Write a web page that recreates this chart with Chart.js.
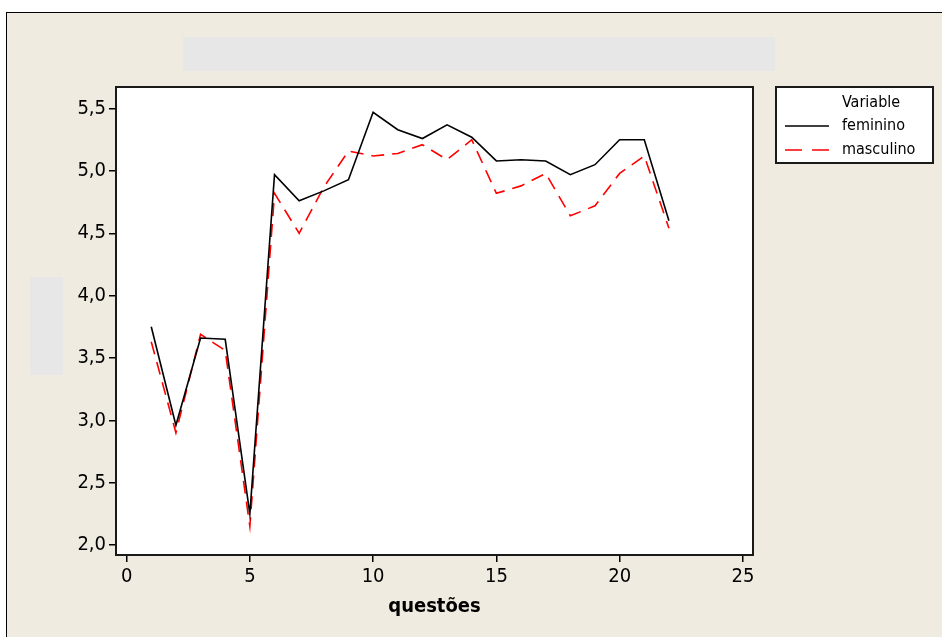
<!DOCTYPE html>
<html>
<head>
<meta charset="utf-8">
<script src="https://cdn.jsdelivr.net/npm/chart.js@4/dist/chart.umd.min.js"></script>
<style>
  html, body { margin: 0; padding: 0; background: #fff; }
  #wrap { width: 942px; height: 637px; }
</style>
</head>
<body>
<div id="wrap"><canvas id="chart"></canvas></div>
<script>
// data
const questoes = [1, 2, 3, 4, 5, 6, 7, 8, 9, 10, 11, 12, 13, 14, 15, 16, 17, 18, 19, 20, 21, 22];
const feminino = [3.75, 2.96, 3.66, 3.65, 2.25, 4.97, 4.76, 4.84, 4.93, 5.47, 5.33, 5.26, 5.37, 5.27, 5.08, 5.09, 5.08, 4.97, 5.05, 5.25, 5.25, 4.60];
const masculino = [3.63, 2.90, 3.69, 3.56, 2.15, 4.82, 4.50, 4.87, 5.16, 5.12, 5.14, 5.21, 5.09, 5.25, 4.82, 4.88, 4.98, 4.64, 4.72, 4.98, 5.12, 4.54];
const xTicks = [0, 5, 10, 15, 20, 25];
const yTicks = [2.0, 2.5, 3.0, 3.5, 4.0, 4.5, 5.0, 5.5];

const FONT = '"DejaVu Sans Condensed", "DejaVu Sans", sans-serif';

// beige frame, grey placeholders, plot box and legend
const minitabLook = {
    id: 'minitabLook',
    beforeDraw(chart) {
        const ctx = chart.ctx;
        ctx.save();
        ctx.fillStyle = '#ffffff';
        ctx.fillRect(0, 0, chart.width, chart.height);
        ctx.fillStyle = '#efebe0';
        ctx.fillRect(6, 12, chart.width, chart.height);
        ctx.strokeStyle = '#000';
        ctx.lineWidth = 1;
        ctx.strokeRect(6.5, 12.5, chart.width + 10, chart.height + 10);
        ctx.fillStyle = '#e7e7e7';
        ctx.fillRect(183, 37, 592, 34);
        ctx.fillRect(30, 277, 33, 98);
        const a = chart.chartArea;
        ctx.fillStyle = '#fff';
        ctx.fillRect(a.left, a.top, a.right - a.left, a.bottom - a.top);
        ctx.restore();
    },
    afterDraw(chart) {
        const ctx = chart.ctx;
        const a = chart.chartArea;
        ctx.save();
        ctx.strokeStyle = '#1a1a1a';
        ctx.lineWidth = 2;
        ctx.strokeRect(a.left, a.top, a.right - a.left, a.bottom - a.top);

        // legend
        ctx.fillStyle = '#fff';
        ctx.fillRect(776, 87, 157, 76);
        ctx.strokeRect(776, 87, 157, 76);
        ctx.font = '16px ' + FONT;
        ctx.textBaseline = 'middle';
        ctx.fillStyle = '#000';
        ctx.fillText('Variable', 842, 103);
        const items = chart.data.datasets;
        items.forEach((ds, i) => {
            const y = 126 + i * 24;
            ctx.beginPath();
            ctx.strokeStyle = ds.borderColor;
            ctx.lineWidth = ds.borderWidth;
            ctx.setLineDash(ds.borderDash ? [17, 10] : []);
            ctx.moveTo(785, y);
            ctx.lineTo(829, y);
            ctx.stroke();
            ctx.setLineDash([]);
            ctx.fillStyle = '#000';
            ctx.fillText(ds.label, 842, y);
        });
        ctx.restore();
    }
};

const ctx = document.getElementById('chart').getContext('2d');
new Chart(ctx, {
    type: 'line',
    data: {
        datasets: [
            {
                label: 'feminino',
                data: questoes.map((q, i) => ({ x: q, y: feminino[i] })),
                borderColor: '#000000',
                borderWidth: 1.6,
                pointRadius: 0,
                tension: 0
            },
            {
                label: 'masculino',
                data: questoes.map((q, i) => ({ x: q, y: masculino[i] })),
                borderColor: '#ff0000',
                borderWidth: 1.6,
                borderDash: [13, 8],
                pointRadius: 0,
                tension: 0
            }
        ]
    },
    options: {
        responsive: true,
        maintainAspectRatio: false,
        animation: false,
        layout: { padding: { top: 87, right: 189, left: 0, bottom: 0 } },
        plugins: {
            legend: { display: false },
            tooltip: { enabled: false }
        },
        scales: {
            x: {
                type: 'linear',
                min: -0.43,
                max: 25.41,
                afterBuildTicks: scale => { scale.ticks = xTicks.map(v => ({ value: v })); },
                afterFit: scale => { scale.height = 82; },
                border: { display: false },
                grid: { drawOnChartArea: false, drawTicks: true, tickLength: 7, color: '#000', lineWidth: 1.5 },
                ticks: { color: '#000', padding: 3, maxRotation: 0, font: { family: FONT, size: 20 } },
                title: {
                    display: true,
                    text: 'questões',
                    color: '#000',
                    padding: { top: 2, bottom: 18 },
                    font: { family: FONT, size: 20, weight: 'bold' }
                }
            },
            y: {
                min: 1.92,
                max: 5.673,
                afterBuildTicks: scale => { scale.ticks = yTicks.map(v => ({ value: v })); },
                afterFit: scale => { scale.width = 116; },
                border: { display: false },
                grid: { drawOnChartArea: false, drawTicks: true, tickLength: 7, color: '#000', lineWidth: 1.5 },
                ticks: {
                    color: '#000',
                    padding: 3,
                    font: { family: FONT, size: 20 },
                    callback: v => v.toFixed(1).replace('.', ',')
                }
            }
        }
    },
    plugins: [minitabLook]
});
</script>
</body>
</html>
